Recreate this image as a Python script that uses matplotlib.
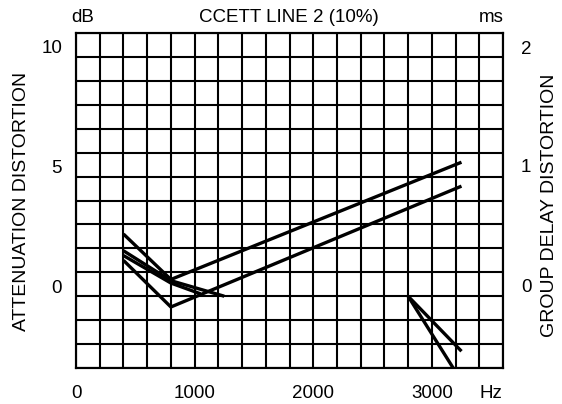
import matplotlib
matplotlib.use("Agg")
import matplotlib.pyplot as plt
import numpy as np

plt.rcParams['font.family'] = ['Liberation Sans', 'DejaVu Sans']

# ---- data ----
x_ticks = [0, 1000, 2000, 3000, 3500]
x_tick_labels = ["0", "1000", "2000", "3000", "Hz"]
left_ticks = [0.42, 5.42, 10.42]
left_tick_labels = ["0", "5", "10"]
right_ticks = [0.09, 1.09, 2.08]
right_tick_labels = ["0", "1", "2"]

# attenuation distortion (dB)
att_upper_f = [400, 800, 3250]
att_upper_v = [2.6, 0.7, 5.6]
att_lower_f = [400, 800, 3250]
att_lower_v = [1.5, -0.45, 4.6]

# group delay distortion (ms)
gd_a_low_f = [400, 800, 1250]
gd_a_low_v = [0.38, 0.13, 0.0]
gd_b_low_f = [400, 800, 1050]
gd_b_low_v = [0.34, 0.11, 0.02]
gd_a_high_f = [2800, 3250]
gd_a_high_v = [0.0, -0.46]
gd_b_high_f = [2800, 3180]
gd_b_high_v = [0.0, -0.6]

W, H = 562, 404
fig = plt.figure(figsize=(W / 100, H / 100), dpi=100)
L, R, T, B = 76, 503, 33, 368
ax = fig.add_axes([L / W, 1 - B / H, (R - L) / W, (B - T) / H])
ax.set_xlim(0, 3600)
ax.set_ylim(-3, 11)
ax.xaxis.remove_overlapping_locs = False
ax.yaxis.remove_overlapping_locs = False

grid_lw = 1.5
curve_lw = 2.4
fs = 13.5

ax.set_xticks(np.arange(0, 3601, 200), minor=True)
ax.set_yticks(np.arange(-3, 11.01, 1), minor=True)
ax.grid(which='minor', color='black', lw=grid_lw)
ax.grid(which='major', visible=False)
ax.tick_params(which='minor', length=0)
ax.set_xticks(x_ticks, x_tick_labels)
ax.set_yticks(left_ticks, left_tick_labels)
ax.tick_params(which='major', length=0, labelsize=fs)
ax.tick_params(axis='x', pad=12)
ax.tick_params(axis='y', pad=10)
for s in ax.spines.values():
    s.set_linewidth(grid_lw)

ax.plot(att_upper_f, att_upper_v, color='black', lw=curve_lw, solid_capstyle='butt')
ax.plot(att_lower_f, att_lower_v, color='black', lw=curve_lw, solid_capstyle='butt')

ax2 = ax.twinx()
ax2.set_ylim(-3 / 5, 11 / 5)
ax2.set_yticks(right_ticks, right_tick_labels)
ax2.tick_params(length=0, labelsize=fs, pad=13)
for s in ax2.spines.values():
    s.set_linewidth(grid_lw)
for f, v in [(gd_a_low_f, gd_a_low_v), (gd_b_low_f, gd_b_low_v),
             (gd_a_high_f, gd_a_high_v), (gd_b_high_f, gd_b_high_v)]:
    ax2.plot(f, v, color='black', lw=curve_lw, solid_capstyle='butt')

fig.text(83 / W, 1 - 18 / H, "dB", ha='center', va='center', fontsize=fs)
fig.text(289 / W, 1 - 18 / H, "CCETT LINE 2 (10%)", ha='center', va='center', fontsize=fs)
fig.text(491 / W, 1 - 18 / H, "ms", ha='center', va='center', fontsize=fs)
fig.text(22 / W, 1 - 201 / H, "ATTENUATION DISTORTION", ha='center', va='center',
         rotation=90, fontsize=14)
fig.text(550 / W, 1 - 205 / H, "GROUP DELAY DISTORTION", ha='center', va='center',
         rotation=90, fontsize=14)

fig.savefig("out.png", dpi=100)
